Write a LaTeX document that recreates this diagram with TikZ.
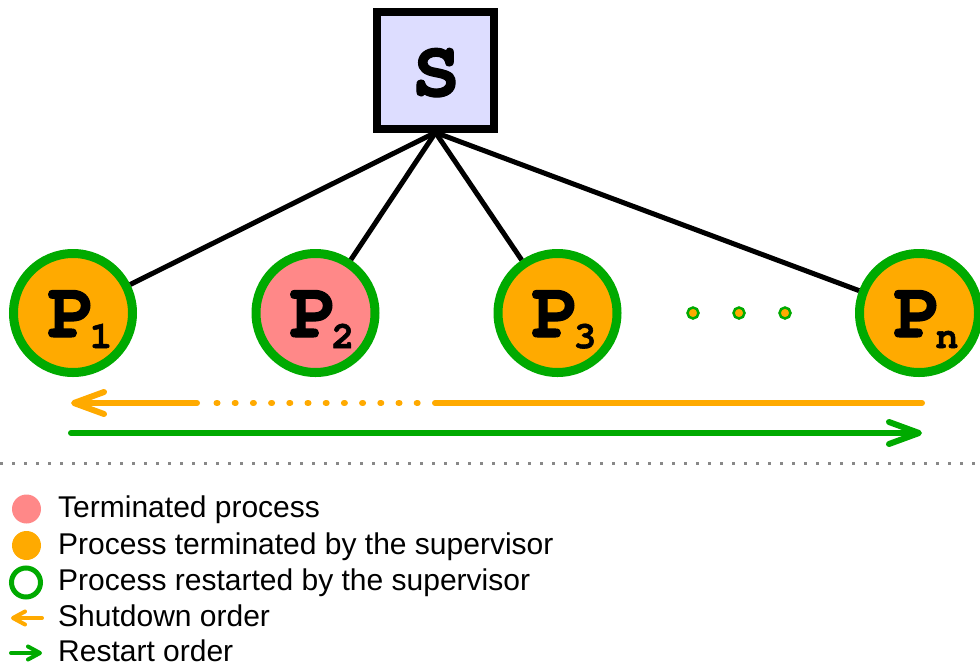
\documentclass[tikz,border=0pt]{standalone}
\usepackage{fontspec}
\setmainfont{Liberation Sans}
\newfontfamily\courfont{TeX Gyre Cursor}[BoldFeatures={FakeBold=1.5}]
\usetikzlibrary{arrows.meta}
\definecolor{orng}{RGB}{255,170,0}
\definecolor{pnk}{RGB}{255,136,136}
\definecolor{grn}{RGB}{0,170,0}
\definecolor{boxfill}{RGB}{221,221,255}
\definecolor{sepgray}{RGB}{136,136,136}
\tikzset{
  proc/.style={circle,draw=grn,line width=9pt,minimum size=119pt,inner sep=0pt},
  sup/.style={rectangle,draw=black,fill=boxfill,line width=8pt,minimum size=117pt,inner sep=0pt},
  link/.style={draw=black,line width=5pt},
  plabel/.style={anchor=base,inner sep=0pt,font=\courfont\bfseries\fontsize{80}{80}\selectfont},
  smalldot/.style={circle,draw=grn,fill=orng,line width=2.5pt,minimum size=11pt,inner sep=0pt},
  shut/.style={draw=orng,line width=6pt,line cap=round},
  rest/.style={draw=grn,line width=6pt,line cap=round},
  bigbarb/.style={-{Straight Barb[length=30pt,width=22pt,round]}},
  smallbarb/.style={-{Straight Barb[length=12pt,width=13pt,round]}},
  legtext/.style={anchor=base west,inner sep=0pt,font=\fontsize{30}{30}\selectfont},
}
\newcommand{\psub}[1]{P\kern-6pt\raisebox{-11pt}{\fontsize{38}{38}\selectfont #1}}
\begin{document}
\begin{tikzpicture}[x=1pt,y=-1pt]
\useasboundingbox (0,0) rectangle (980,667);
% supervisor
\node[sup] (s) at (435.5,70) {};
\node[plabel] (st) at (436,96) {S};
% processes
\node[proc,fill=orng] (p1) at (73,313) {};
\node[proc,fill=pnk] (p2) at (315.5,313) {};
\node[proc,fill=orng] (p3) at (557.5,313) {};
\node[proc,fill=orng] (pn) at (919,313) {};
\node[plabel] (p1t) at (80,337) {\psub{1}};
\node[plabel] (p2t) at (322,337) {\psub{2}};
\node[plabel] (p3t) at (564,337) {\psub{3}};
\node[plabel] (pnt) at (926,337) {\psub{n}};
% links
\draw[link] (s.south) -- (p1);
\draw[link] (s.south) -- (p2);
\draw[link] (s.south) -- (p3);
\draw[link] (s.south) -- (pn);
% ellipsis dots
\node[smalldot] (e1) at (693,313) {};
\node[smalldot] (e2) at (739,313) {};
\node[smalldot] (e3) at (785,313) {};
% shutdown order
\coordinate (sa) at (922,403);
\coordinate (sb) at (435,403);
\coordinate (sc) at (216.5,403);
\coordinate (sd) at (418,403);
\coordinate (se) at (197,403);
\coordinate (sf) at (71,403);
\draw[shut] (sa) -- (sb);
\draw[shut,dash pattern=on 1pt off 17.2pt] (sc) -- (sd);
\draw[shut,bigbarb] (se) -- (sf);
% restart order
\coordinate (ra) at (71,433);
\coordinate (rb) at (922,433);
\draw[rest,bigbarb] (ra) -- (rb);
% separator
\coordinate (la) at (0,463);
\coordinate (lb) at (980,463);
\draw[sepgray,line width=3pt,dash pattern=on 3pt off 9pt] (la) -- (lb);
% legend
\node[circle,fill=pnk,minimum size=29pt,inner sep=0pt] (l1) at (26.5,509) {};
\node[circle,fill=orng,minimum size=29pt,inner sep=0pt] (l2) at (26.5,545.5) {};
\node[circle,draw=grn,line width=5pt,minimum size=29pt,inner sep=0pt] (l3) at (26,582.5) {};
\coordinate (l4a) at (42,618);
\coordinate (l4b) at (11,618);
\draw[shut,line width=4pt,smallbarb] (l4a) -- (l4b);
\coordinate (l5a) at (11,653);
\coordinate (l5b) at (42,653);
\draw[rest,line width=4pt,smallbarb] (l5a) -- (l5b);
\node[legtext] (t1) at (58,517) {Terminated process};
\node[legtext] (t2) at (58,554) {Process terminated by the supervisor};
\node[legtext] (t3) at (58,590) {Process restarted by the supervisor};
\node[legtext] (t4) at (58,626) {Shutdown order};
\node[legtext] (t5) at (58,661) {Restart order};
\end{tikzpicture}
\end{document}
